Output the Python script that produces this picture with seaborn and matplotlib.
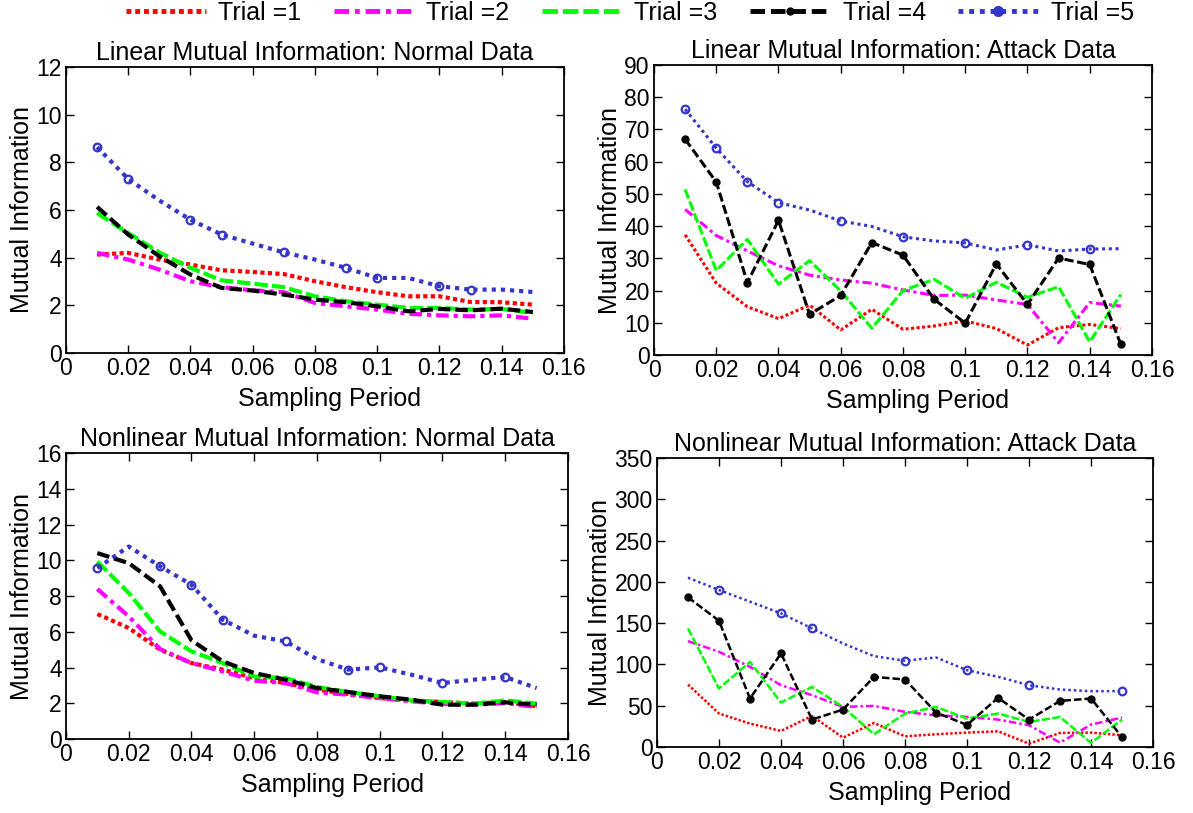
import matplotlib
matplotlib.use("Agg")
import matplotlib.pyplot as plt
import seaborn as sns
import numpy as np
from matplotlib.ticker import FuncFormatter, MultipleLocator
from matplotlib.lines import Line2D

# ---------------- data ----------------
sampling = [0.01, 0.02, 0.03, 0.04, 0.05, 0.06, 0.07, 0.08,
            0.09, 0.10, 0.11, 0.12, 0.13, 0.14, 0.15]
trial_labels = ["Trial =1", "Trial =2", "Trial =3", "Trial =4", "Trial =5"]

# Linear Mutual Information: Normal Data
lin_normal_t1 = [4.13, 4.20, 3.92, 3.71, 3.47, 3.40, 3.31, 3.01, 2.76, 2.55, 2.38, 2.38, 2.14, 2.13, 2.03]
lin_normal_t2 = [4.20, 3.92, 3.50, 3.01, 2.76, 2.63, 2.55, 2.10, 1.96, 1.82, 1.65, 1.58, 1.54, 1.58, 1.44]
lin_normal_t3 = [5.87, 5.03, 4.22, 3.57, 3.05, 2.91, 2.76, 2.38, 2.17, 2.03, 1.89, 1.89, 1.82, 1.85, 1.68]
lin_normal_t4 = [6.13, 4.97, 4.06, 3.29, 2.73, 2.62, 2.45, 2.24, 2.13, 1.96, 1.75, 1.85, 1.79, 1.86, 1.72]
lin_normal_t5 = [8.64, 7.30, 6.40, 5.59, 4.97, 4.59, 4.22, 3.92, 3.57, 3.15, 3.15, 2.80, 2.66, 2.66, 2.56]

# Linear Mutual Information: Attack Data
lin_attack_t1 = [37.3, 22.3, 15.0, 11.3, 15.5, 7.8, 14.2, 8.0, 9.0, 10.6, 8.2, 3.1, 8.5, 9.5, 8.2]
lin_attack_t2 = [45.2, 37.1, 32.3, 27.7, 24.8, 23.3, 22.3, 20.2, 18.5, 18.6, 17.1, 15.7, 3.8, 16.3, 15.2]
lin_attack_t3 = [51.4, 26.2, 35.9, 22.0, 29.3, 19.9, 8.3, 20.0, 23.5, 17.6, 22.6, 17.9, 21.2, 4.1, 18.8]
lin_attack_t4 = [67.0, 53.7, 22.5, 41.8, 12.6, 18.5, 34.9, 31.0, 17.3, 9.9, 28.3, 15.7, 30.1, 28.1, 3.3]
lin_attack_t5 = [76.3, 64.2, 53.8, 47.3, 45.0, 41.6, 39.9, 36.7, 35.4, 34.8, 32.6, 34.2, 32.3, 32.9, 33.0]

# Nonlinear Mutual Information: Normal Data
nonlin_normal_t1 = [6.99, 6.21, 5.00, 4.25, 3.88, 3.41, 3.13, 2.76, 2.52, 2.29, 2.16, 2.07, 1.98, 2.07, 1.83]
nonlin_normal_t2 = [8.39, 6.86, 5.03, 4.25, 3.78, 3.26, 3.13, 2.61, 2.48, 2.29, 2.11, 1.96, 1.92, 2.01, 1.79]
nonlin_normal_t3 = [9.93, 8.17, 6.02, 4.90, 4.25, 3.50, 3.41, 2.91, 2.63, 2.39, 2.16, 2.07, 1.98, 2.16, 1.98]
nonlin_normal_t4 = [10.40, 9.84, 8.54, 5.52, 4.34, 3.69, 3.32, 2.85, 2.63, 2.39, 2.20, 1.92, 1.92, 2.05, 1.92]
nonlin_normal_t5 = [9.56, 10.77, 9.66, 8.63, 6.67, 5.78, 5.46, 4.47, 3.88, 4.01, 3.60, 3.13, 3.32, 3.47, 2.85]

# Nonlinear Mutual Information: Attack Data
nonlin_attack_t1 = [75.6, 40.5, 28.3, 19.4, 37.6, 11.3, 29.1, 12.9, 15.4, 17.4, 19.0, 4.0, 17.0, 17.4, 14.2]
nonlin_attack_t2 = [128.2, 115.3, 97.1, 74.8, 62.7, 48.5, 49.8, 42.5, 38.4, 36.4, 33.2, 26.3, 5.3, 27.1, 35.6]
nonlin_attack_t3 = [143.6, 70.8, 103.1, 53.8, 72.8, 48.5, 15.4, 40.5, 48.5, 34.4, 40.5, 30.3, 36.4, 4.9, 33.2]
nonlin_attack_t4 = [181.2, 152.9, 58.7, 113.3, 33.2, 45.3, 84.9, 81.7, 41.7, 26.7, 59.5, 33.2, 55.8, 58.7, 12.0]
nonlin_attack_t5 = [205.0, 190.1, 176.0, 161.8, 143.6, 125.4, 110.0, 104.4, 108.4, 93.0, 85.0, 74.8, 69.6, 67.6, 67.6]

titles = ["Linear Mutual Information: Normal Data",
          "Linear Mutual Information: Attack Data",
          "Nonlinear Mutual Information: Normal Data",
          "Nonlinear Mutual Information: Attack Data"]
xlabel = "Sampling Period"
ylabel = "Mutual Information"

# ---------------- style ----------------
sns.set_style("ticks")
plt.rcParams["font.family"] = ["Liberation Sans", "DejaVu Sans"]
plt.rcParams["text.color"] = "black"
plt.rcParams["axes.labelcolor"] = "black"
plt.rcParams["xtick.color"] = "black"
plt.rcParams["ytick.color"] = "black"
plt.rcParams["xtick.direction"] = "in"
plt.rcParams["ytick.direction"] = "in"

colors = ["#ff0000", "#ff00ff", "#00ff00", "#000000", "#3535c8"]
linestyles = [(0, (1.0, 0.8)), (0, (3.0, 1.2, 1.0, 1.2)), (0, (3.2, 1.0)),
              (0, (3.0, 1.2)), (0, (1.0, 1.2))]

panels = [
    dict(series=[lin_normal_t1, lin_normal_t2, lin_normal_t3, lin_normal_t4, lin_normal_t5],
         ymax=12, ystep=2, lw=3.0, t4_every=[], t5_every=[0, 1, 3, 4, 6, 8, 9, 11, 12],
         pos=[0.0553, 0.5658, 0.4174, 0.3518]),
    dict(series=[lin_attack_t1, lin_attack_t2, lin_attack_t3, lin_attack_t4, lin_attack_t5],
         ymax=90, ystep=10, lw=2.2, t4_every=list(range(15)), t5_every=[0, 1, 2, 3, 5, 7, 9, 11, 13],
         pos=[0.5482, 0.5633, 0.4174, 0.3567]),
    dict(series=[nonlin_normal_t1, nonlin_normal_t2, nonlin_normal_t3, nonlin_normal_t4, nonlin_normal_t5],
         ymax=16, ystep=2, lw=3.0, t4_every=[], t5_every=[0, 2, 3, 4, 6, 8, 9, 11, 13],
         pos=[0.0553, 0.0910, 0.4208, 0.3518]),
    dict(series=[nonlin_attack_t1, nonlin_attack_t2, nonlin_attack_t3, nonlin_attack_t4, nonlin_attack_t5],
         ymax=350, ystep=50, lw=1.8, t4_every=list(range(15)), t5_every=[1, 3, 4, 7, 9, 11, 14],
         pos=[0.5507, 0.0812, 0.4158, 0.3555]),
]

fig = plt.figure(figsize=(11.93, 8.13), dpi=100)
fs_tick = 16.5
fs_lab = 18

for pi, p in enumerate(panels):
    ax = fig.add_axes(p["pos"])
    for k, vals in enumerate(p["series"]):
        kw = dict(color=colors[k], linestyle=linestyles[k], linewidth=p["lw"],
                  label=trial_labels[k], legend=False, ax=ax)
        if k == 3 and p["t4_every"]:
            kw.update(marker="o", markersize=5, markerfacecolor=colors[k],
                      markeredgecolor=colors[k], markeredgewidth=1.0,
                      markevery=p["t4_every"])
        if k == 4:
            kw.update(marker="o", markersize=5.5, markerfacecolor="none",
                      markeredgecolor=colors[k], markeredgewidth=1.6,
                      markevery=p["t5_every"])
        sns.lineplot(x=sampling, y=vals, **kw)
    ax.set_xlim(0, 0.16)
    ax.set_ylim(0, p["ymax"])
    ax.xaxis.set_major_locator(MultipleLocator(0.02))
    ax.yaxis.set_major_locator(MultipleLocator(p["ystep"]))
    ax.xaxis.set_major_formatter(FuncFormatter(lambda v, _: "%g" % round(v, 3)))
    ax.tick_params(axis="both", which="major", direction="in", length=6, width=1.0,
                   top=True, right=True, labelsize=fs_tick, pad=3, colors="black")
    for s in ax.spines.values():
        s.set_visible(True)
        s.set_linewidth(1.3)
        s.set_color("black")
    ax.set_title(titles[pi], fontsize=fs_lab, pad=5, color="black")
    ax.set_xlabel(xlabel, fontsize=fs_lab, x=0.53, labelpad=5)
    ax.set_ylabel(ylabel, fontsize=fs_lab, labelpad=2)

leg_h = []
for k in range(5):
    h = Line2D([], [], color=colors[k], linestyle=linestyles[k], linewidth=3.5)
    if k == 3:
        h.set_marker("o"); h.set_markersize(5); h.set_markerfacecolor("black")
        h.set_markeredgecolor("black")
    if k == 4:
        h.set_marker("o"); h.set_markersize(7); h.set_markerfacecolor(colors[4])
        h.set_markeredgecolor(colors[4])
    leg_h.append(h)
fig.legend(leg_h, trial_labels, loc="upper center", bbox_to_anchor=(0.528, 1.0),
           ncol=5, frameon=False, fontsize=fs_lab, handlelength=3.2,
           handletextpad=0.5, columnspacing=1.3, borderpad=0.05,
           borderaxespad=0.0)

fig.savefig("out.png", dpi=100)
